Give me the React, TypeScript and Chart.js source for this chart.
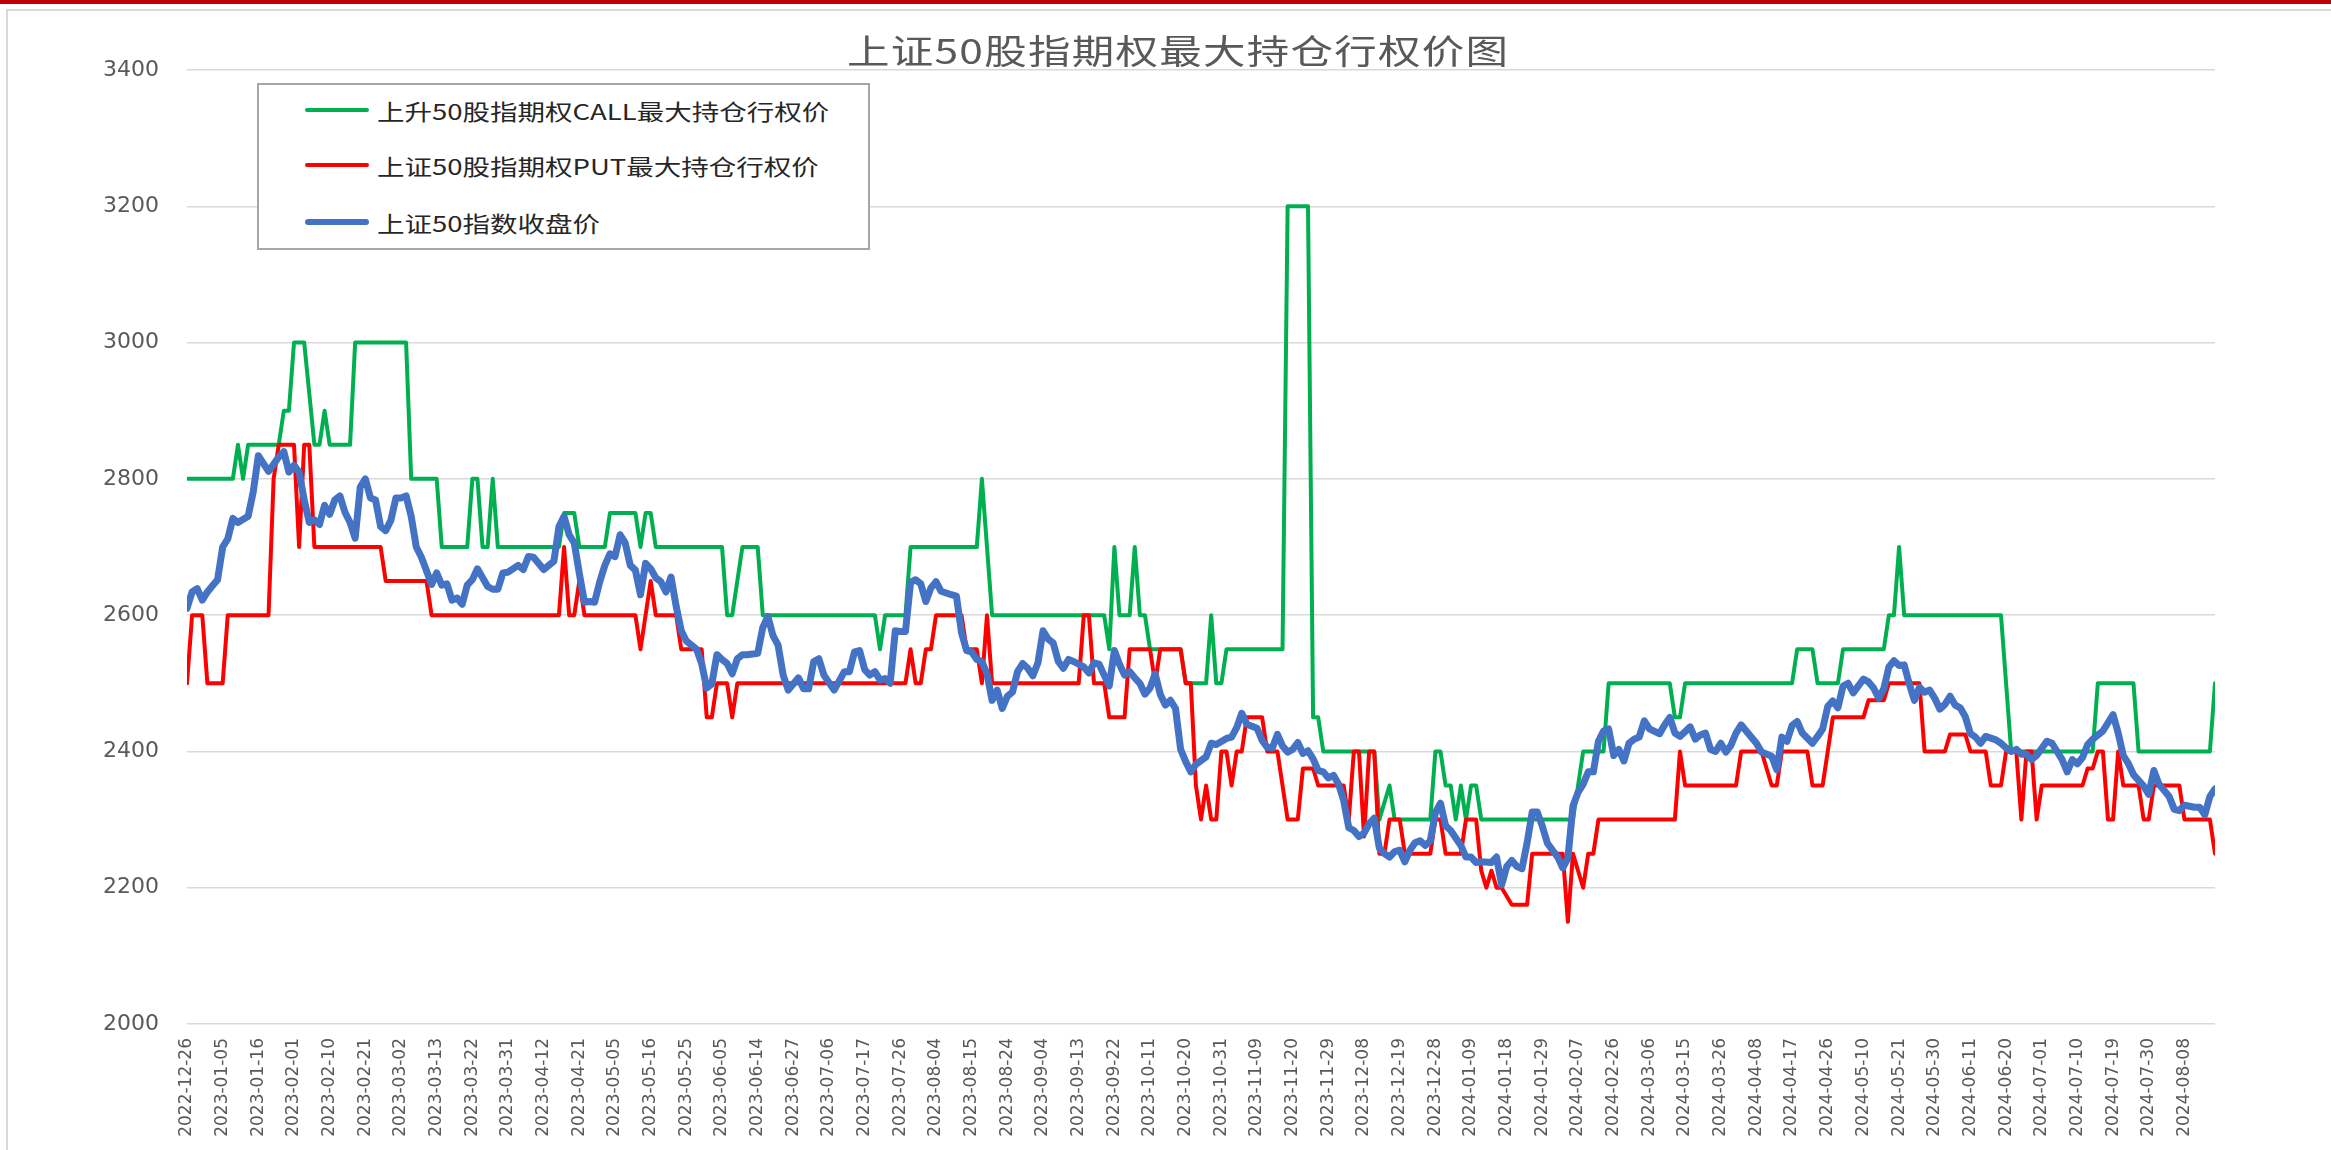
import React, { useEffect, useRef } from "react";
import { Chart, registerables } from "chart.js";

Chart.register(...registerables);

// x-axis labels (every 7th trading day, index = 7 * position)
const tickLabels = [
  "2022-12-26", "2023-01-05", "2023-01-16", "2023-02-01", "2023-02-10", "2023-02-21", "2023-03-02",
  "2023-03-13", "2023-03-22", "2023-03-31", "2023-04-12", "2023-04-21", "2023-05-05", "2023-05-16",
  "2023-05-25", "2023-06-05", "2023-06-14", "2023-06-27", "2023-07-06", "2023-07-17", "2023-07-26",
  "2023-08-04", "2023-08-15", "2023-08-24", "2023-09-04", "2023-09-13", "2023-09-22", "2023-10-11",
  "2023-10-20", "2023-10-31", "2023-11-09", "2023-11-20", "2023-11-29", "2023-12-08", "2023-12-19",
  "2023-12-28", "2024-01-09", "2024-01-18", "2024-01-29", "2024-02-07", "2024-02-26", "2024-03-06",
  "2024-03-15", "2024-03-26", "2024-04-08", "2024-04-17", "2024-04-26", "2024-05-10", "2024-05-21",
  "2024-05-30", "2024-06-11", "2024-06-20", "2024-07-01", "2024-07-10", "2024-07-19", "2024-07-30",
  "2024-08-08",
];
const lastIndex = 398;

// [trading-day index, strike] vertices
const callStrike: [number, number][] = [
  [0, 2800], [9, 2800], [10, 2850], [11, 2800], [12, 2850], [18, 2850], [19, 2900], [20, 2900], [21, 3000],
  [23, 3000], [25, 2850], [26, 2850], [27, 2900], [28, 2850], [32, 2850], [33, 3000], [43, 3000], [44, 2800],
  [49, 2800], [50, 2700], [55, 2700], [56, 2800], [57, 2800], [58, 2700], [59, 2700], [60, 2800], [61, 2700],
  [73, 2700], [74, 2750], [76, 2750], [77, 2700], [82, 2700], [83, 2750], [88, 2750], [89, 2700], [90, 2750],
  [91, 2750], [92, 2700], [105, 2700], [106, 2600], [107, 2600], [109, 2700], [112, 2700], [113, 2600],
  [135, 2600], [136, 2550], [137, 2600], [141, 2600], [142, 2700], [155, 2700], [156, 2800], [157, 2700],
  [158, 2600], [180, 2600], [181, 2550], [182, 2700], [183, 2600], [185, 2600], [186, 2700], [187, 2600],
  [188, 2600], [189, 2550], [195, 2550], [196, 2500], [200, 2500], [201, 2600], [202, 2500], [203, 2500],
  [204, 2550], [215, 2550], [216, 3200], [220, 3200], [221, 2450], [222, 2450], [223, 2400], [233, 2400],
  [234, 2300], [236, 2350], [237, 2300], [244, 2300], [245, 2400], [246, 2400], [247, 2350], [248, 2350],
  [249, 2300], [250, 2350], [251, 2300], [252, 2350], [253, 2350], [254, 2300], [272, 2300], [274, 2400],
  [278, 2400], [279, 2500], [291, 2500], [292, 2450], [293, 2450], [294, 2500], [315, 2500], [316, 2550],
  [319, 2550], [320, 2500], [324, 2500], [325, 2550], [333, 2550], [334, 2600], [335, 2600], [336, 2700],
  [337, 2600], [356, 2600], [357, 2500], [358, 2400], [374, 2400], [375, 2500], [382, 2500], [383, 2400],
  [397, 2400], [398, 2500],
];

const putStrike: [number, number][] = [
  [0, 2500], [1, 2600], [3, 2600], [4, 2500], [7, 2500], [8, 2600], [16, 2600], [17, 2800], [18, 2850],
  [21, 2850], [22, 2700], [23, 2850], [24, 2850], [25, 2700], [38, 2700], [39, 2650], [47, 2650], [48, 2600],
  [73, 2600], [74, 2700], [75, 2600], [76, 2600], [77, 2650], [78, 2600], [88, 2600], [89, 2550], [91, 2650],
  [92, 2600], [96, 2600], [97, 2550], [101, 2550], [102, 2450], [103, 2450], [104, 2500], [106, 2500],
  [107, 2450], [108, 2500], [141, 2500], [142, 2550], [143, 2500], [144, 2500], [145, 2550], [146, 2550],
  [147, 2600], [152, 2600], [153, 2550], [155, 2550], [156, 2500], [157, 2600], [158, 2500], [175, 2500],
  [176, 2600], [177, 2600], [178, 2500], [180, 2500], [181, 2450], [184, 2450], [185, 2550], [189, 2550],
  [190, 2500], [191, 2550], [195, 2550], [196, 2500], [197, 2500], [198, 2350], [199, 2300], [200, 2350],
  [201, 2300], [202, 2300], [203, 2400], [204, 2400], [205, 2350], [206, 2400], [207, 2400], [208, 2450],
  [211, 2450], [212, 2400], [214, 2400], [216, 2300], [218, 2300], [219, 2375], [221, 2375], [222, 2350],
  [227, 2350], [228, 2300], [229, 2400], [230, 2400], [231, 2275], [232, 2400], [233, 2400], [234, 2250],
  [235, 2250], [236, 2300], [238, 2300], [239, 2250], [244, 2250], [245, 2300], [246, 2300], [247, 2250],
  [250, 2250], [251, 2300], [253, 2300], [254, 2225], [255, 2200], [256, 2225], [257, 2200], [258, 2200],
  [260, 2175], [263, 2175], [264, 2250], [270, 2250], [271, 2150], [272, 2250], [274, 2200], [275, 2250],
  [276, 2250], [277, 2300], [292, 2300], [293, 2400], [294, 2350], [304, 2350], [305, 2400], [309, 2400],
  [310, 2375], [311, 2350], [312, 2350], [313, 2400], [318, 2400], [319, 2350], [321, 2350], [323, 2450],
  [329, 2450], [330, 2475], [333, 2475], [334, 2500], [340, 2500], [341, 2400], [345, 2400], [346, 2425],
  [349, 2425], [350, 2400], [353, 2400], [354, 2350], [356, 2350], [357, 2400], [359, 2400], [360, 2300],
  [361, 2400], [362, 2400], [363, 2300], [364, 2350], [372, 2350], [373, 2375], [374, 2375], [375, 2400],
  [376, 2400], [377, 2300], [378, 2300], [379, 2400], [380, 2350], [383, 2350], [384, 2300], [385, 2300],
  [386, 2350], [391, 2350], [392, 2300], [397, 2300], [398, 2250],
];

const indexClose: [number, number][] = [
  [0, 2610], [1, 2634], [2, 2639], [3, 2622], [4, 2634], [5, 2643], [6, 2652], [7, 2700], [8, 2712], [9, 2742],
  [10, 2736], [12, 2745], [13, 2781], [14, 2834], [16, 2811], [18, 2832], [19, 2840], [20, 2810], [21, 2820],
  [22, 2810], [23, 2769], [24, 2736], [25, 2740], [26, 2733], [27, 2761], [28, 2748], [29, 2769], [30, 2775],
  [31, 2751], [32, 2736], [33, 2713], [34, 2788], [35, 2800], [36, 2772], [37, 2769], [38, 2730], [39, 2724],
  [40, 2739], [41, 2772], [42, 2772], [43, 2775], [44, 2745], [45, 2700], [46, 2685], [47, 2665], [48, 2645],
  [49, 2662], [50, 2644], [51, 2646], [52, 2622], [53, 2625], [54, 2616], [55, 2644], [56, 2652], [57, 2668],
  [59, 2642], [60, 2638], [61, 2638], [62, 2662], [63, 2663], [65, 2673], [66, 2667], [67, 2686], [68, 2685],
  [70, 2667], [72, 2679], [73, 2730], [74, 2745], [75, 2718], [76, 2706], [77, 2661], [78, 2619], [79, 2620],
  [80, 2619], [81, 2649], [82, 2673], [83, 2690], [84, 2686], [85, 2718], [86, 2706], [87, 2673], [88, 2666],
  [89, 2630], [90, 2676], [91, 2668], [92, 2655], [93, 2649], [94, 2634], [95, 2656], [96, 2613], [97, 2577],
  [98, 2562], [100, 2550], [101, 2529], [102, 2493], [103, 2499], [104, 2542], [105, 2535], [106, 2529],
  [107, 2514], [108, 2536], [109, 2542], [110, 2542], [112, 2544], [113, 2582], [114, 2598], [115, 2570],
  [116, 2556], [117, 2512], [118, 2490], [120, 2508], [121, 2492], [122, 2492], [123, 2532], [124, 2536],
  [125, 2512], [127, 2490], [129, 2517], [130, 2517], [131, 2546], [132, 2548], [133, 2520], [134, 2512],
  [135, 2517], [136, 2505], [137, 2507], [138, 2500], [139, 2577], [140, 2576], [141, 2576], [142, 2648],
  [143, 2652], [144, 2646], [145, 2620], [146, 2640], [147, 2649], [148, 2635], [150, 2630], [151, 2628],
  [152, 2574], [153, 2548], [154, 2546], [155, 2535], [156, 2532], [157, 2514], [158, 2475], [159, 2490],
  [160, 2463], [161, 2481], [162, 2487], [163, 2517], [164, 2529], [165, 2522], [166, 2511], [167, 2530],
  [168, 2577], [169, 2565], [170, 2559], [171, 2532], [172, 2522], [173, 2535], [174, 2532], [176, 2524],
  [177, 2515], [178, 2530], [179, 2528], [180, 2512], [181, 2496], [182, 2548], [183, 2528], [184, 2512],
  [185, 2517], [186, 2508], [187, 2500], [188, 2484], [189, 2493], [190, 2514], [191, 2484], [192, 2468],
  [193, 2475], [194, 2463], [195, 2403], [196, 2385], [197, 2370], [198, 2381], [200, 2392], [201, 2412],
  [202, 2410], [204, 2419], [205, 2421], [206, 2435], [207, 2456], [208, 2440], [210, 2434], [211, 2416],
  [212, 2406], [213, 2405], [214, 2425], [215, 2408], [216, 2399], [217, 2403], [218, 2413], [219, 2397],
  [220, 2401], [221, 2389], [222, 2372], [223, 2370], [224, 2361], [225, 2365], [226, 2352], [227, 2328],
  [228, 2288], [229, 2284], [230, 2275], [231, 2280], [232, 2294], [233, 2302], [234, 2258], [235, 2250],
  [236, 2245], [237, 2253], [238, 2255], [239, 2238], [240, 2255], [241, 2266], [242, 2269], [243, 2262],
  [244, 2269], [245, 2310], [246, 2324], [247, 2291], [248, 2284], [249, 2273], [250, 2262], [251, 2245],
  [252, 2245], [253, 2237], [254, 2238], [256, 2237], [257, 2245], [258, 2204], [259, 2231], [260, 2240],
  [261, 2231], [262, 2228], [263, 2266], [264, 2311], [265, 2311], [266, 2290], [267, 2265], [268, 2255],
  [269, 2245], [270, 2229], [271, 2243], [272, 2320], [273, 2340], [274, 2352], [275, 2370], [276, 2370],
  [277, 2415], [278, 2430], [279, 2433], [280, 2394], [281, 2403], [282, 2386], [283, 2412], [284, 2418],
  [285, 2421], [286, 2445], [287, 2433], [289, 2426], [290, 2439], [291, 2450], [292, 2427], [293, 2422],
  [295, 2436], [296, 2418], [297, 2424], [298, 2427], [299, 2403], [300, 2400], [301, 2412], [302, 2399],
  [303, 2409], [304, 2427], [305, 2439], [306, 2430], [308, 2412], [309, 2399], [311, 2393], [312, 2373],
  [313, 2421], [314, 2415], [315, 2438], [316, 2444], [317, 2427], [319, 2412], [320, 2422], [321, 2433],
  [322, 2466], [323, 2474], [324, 2464], [325, 2496], [326, 2500], [327, 2486], [329, 2506], [330, 2502],
  [331, 2493], [332, 2478], [333, 2492], [334, 2524], [335, 2533], [336, 2526], [337, 2527], [338, 2499],
  [339, 2475], [340, 2494], [341, 2487], [342, 2490], [343, 2478], [344, 2462], [345, 2469], [346, 2481],
  [347, 2468], [348, 2464], [349, 2451], [350, 2426], [351, 2421], [352, 2412], [353, 2422], [355, 2417],
  [356, 2412], [357, 2405], [358, 2400], [359, 2403], [360, 2396], [361, 2396], [362, 2388], [363, 2394],
  [365, 2415], [366, 2412], [368, 2388], [369, 2370], [370, 2388], [371, 2382], [372, 2391], [373, 2410],
  [374, 2418], [376, 2430], [378, 2454], [379, 2427], [380, 2394], [381, 2382], [382, 2366], [384, 2349],
  [385, 2337], [386, 2372], [387, 2352], [389, 2334], [390, 2315], [391, 2313], [392, 2321], [394, 2318],
  [395, 2318], [396, 2307], [397, 2334], [398, 2345],
];

const seriesNames = [
  "上升50股指期权CALL最大持仓行权价",
  "上证50股指期权PUT最大持仓行权价",
  "上证50指数收盘价",
];
const seriesColors = ["#00B050", "#FF0000", "#4472C4"];
const titleText = "上证50股指期权最大持仓行权价图";

const W = 2331;
const H = 1150;

export default function App() {
  const ref = useRef<HTMLCanvasElement | null>(null);

  useEffect(() => {
    const canvas = ref.current;
    if (!canvas) return;
    const toXY = (arr: [number, number][]) => arr.map(([x, y]) => ({ x, y }));
    const chart = new Chart(canvas, {
      type: "line",
      data: {
        datasets: [
          {
            label: seriesNames[0],
            data: toXY(callStrike),
            borderColor: seriesColors[0],
            backgroundColor: seriesColors[0],
            borderWidth: 4,
            order: 2,
          },
          {
            label: seriesNames[1],
            data: toXY(putStrike),
            borderColor: seriesColors[1],
            backgroundColor: seriesColors[1],
            borderWidth: 4,
            order: 1,
          },
          {
            label: seriesNames[2],
            data: toXY(indexClose),
            borderColor: seriesColors[2],
            backgroundColor: seriesColors[2],
            borderWidth: 7,
            order: 0,
          },
        ],
      },
      options: {
        responsive: false,
        animation: false,
        devicePixelRatio: 1,
        layout: { padding: { top: 70, right: W - 2215, left: 0, bottom: 0 } },
        elements: {
          point: { radius: 0, hoverRadius: 0 },
          line: { tension: 0, borderJoinStyle: "round", borderCapStyle: "round", fill: false },
        },
        plugins: {
          legend: { display: false },
          title: { display: false },
          tooltip: { enabled: false },
        },
        events: [],
        scales: {
          x: {
            type: "linear",
            min: 0,
            max: lastIndex,
            grid: { display: false, drawTicks: false },
            border: { display: false },
            afterBuildTicks: (scale: any) => {
              scale.ticks = tickLabels.map((_, i) => ({ value: i * 7 }));
            },
            afterFit: (scale: any) => {
              scale.height = H - 1024;
            },
            ticks: {
              autoSkip: false,
              maxRotation: 90,
              minRotation: 90,
              padding: 14,
              color: "#595959",
              font: { family: "'DejaVu Sans'", size: 17 },
              callback: (v: any) => tickLabels[Math.round(Number(v) / 7)] ?? "",
            },
          },
          y: {
            min: 2000,
            max: 3400,
            grid: { color: "#d9d9d9", lineWidth: 1.5, drawTicks: false },
            border: { display: false },
            afterFit: (scale: any) => {
              scale.width = 187;
            },
            ticks: {
              stepSize: 200,
              padding: 28,
              color: "#595959",
              font: { family: "'DejaVu Sans'", size: 22 },
              callback: (v: any) => String(v),
            },
          },
        },
      } as any,
    });
    return () => chart.destroy();
  }, []);

  const legendRows = [27, 82, 139];

  return (
    <div
      style={{
        position: "absolute",
        left: 0,
        top: 0,
        width: W,
        height: H,
        overflow: "hidden",
        background: "#ffffff",
      }}
    >
      <canvas ref={ref} width={W} height={H} style={{ position: "absolute", left: 0, top: 0, width: W, height: H }} />
      <div style={{ position: "absolute", left: 0, top: 0, width: W, height: 4, background: "#C00000" }} />
      <div style={{ position: "absolute", left: 6, top: 9, width: W - 6, height: 2, background: "#d9d9d9" }} />
      <div style={{ position: "absolute", left: 6, top: 9, width: 2, height: H - 9, background: "#d9d9d9" }} />
      <div
        style={{
          position: "absolute",
          left: 847,
          top: 33,
          height: 34,
          lineHeight: "34px",
          fontFamily: "'Noto Sans CJK SC', 'Noto Sans', sans-serif",
          fontSize: 34,
          color: "#595959",
          whiteSpace: "nowrap",
          letterSpacing: "1px",
          transform: "scaleX(1.25)",
          transformOrigin: "left center",
        }}
      >
        {titleText}
      </div>
      <div
        style={{
          position: "absolute",
          left: 257,
          top: 83,
          width: 613,
          height: 167,
          boxSizing: "border-box",
          border: "2.5px solid #a6a6a6",
          background: "#ffffff",
        }}
      >
        {seriesNames.map((name, i) => (
          <React.Fragment key={name}>
            <div
              style={{
                position: "absolute",
                left: 46,
                top: legendRows[i] - (i === 2 ? 3 : 2) - 2.5,
                width: 64,
                height: i === 2 ? 6 : 4,
                borderRadius: 3,
                background: seriesColors[i],
              }}
            />
            <div
              style={{
                position: "absolute",
                left: 118,
                top: legendRows[i] - 2.5 - 15,
                height: 30,
                lineHeight: "30px",
                fontFamily: "'Noto Sans CJK SC', 'Noto Sans', sans-serif",
                fontSize: 22,
                color: "#262626",
                whiteSpace: "nowrap",
                transform: "scaleX(1.25)",
                transformOrigin: "left center",
              }}
            >
              {name}
            </div>
          </React.Fragment>
        ))}
      </div>
    </div>
  );
}
